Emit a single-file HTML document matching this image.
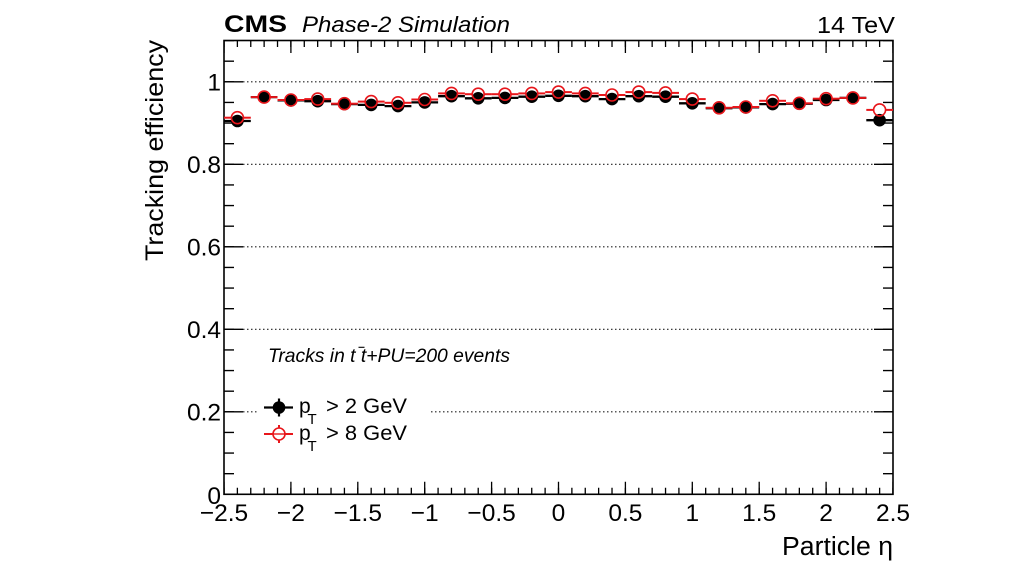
<!DOCTYPE html>
<html>
<head>
<meta charset="utf-8">
<style>
html,body{margin:0;padding:0;background:#fff;}
svg{display:block;}
text{font-family:"Liberation Sans",Arial,sans-serif;fill:#000;}
</style>
</head>
<body>
<svg width="1024" height="576" viewBox="0 0 1024 576" xmlns="http://www.w3.org/2000/svg">
<rect width="1024" height="576" fill="#fff"/>

<!-- grid lines -->
<g stroke="#222" stroke-width="1.2" stroke-dasharray="1.5,2.5">
  <line x1="243" y1="81.8" x2="873" y2="81.8"/>
  <line x1="243" y1="164.3" x2="873" y2="164.3"/>
  <line x1="243" y1="246.8" x2="873" y2="246.8"/>
  <line x1="243" y1="329.3" x2="873" y2="329.3"/>
  <line x1="243" y1="411.8" x2="873" y2="411.8"/>
</g>

<!-- ticks -->
<g stroke="#000" fill="none">
  <line x1="224" y1="491.05" x2="893.5" y2="491.05" stroke-width="6.5" stroke-dasharray="1.3,12.08" stroke-dashoffset="0.65"/>
  <line x1="224" y1="488.05" x2="893.5" y2="488.05" stroke-width="12.5" stroke-dasharray="1.3,65.6" stroke-dashoffset="0.65"/>
  <line x1="224" y1="43.75" x2="893.5" y2="43.75" stroke-width="6.5" stroke-dasharray="1.3,12.08" stroke-dashoffset="0.65"/>
  <line x1="224" y1="46.75" x2="893.5" y2="46.75" stroke-width="12.5" stroke-dasharray="1.3,65.6" stroke-dashoffset="0.65"/>
  <line x1="229" y1="494.95" x2="229" y2="40" stroke-width="10" stroke-dasharray="1.3,19.325"/>
  <line x1="233.5" y1="494.95" x2="233.5" y2="60" stroke-width="19" stroke-dasharray="1.3,81.2"/>
  <line x1="888" y1="494.95" x2="888" y2="40" stroke-width="10" stroke-dasharray="1.3,19.325"/>
  <line x1="883.5" y1="494.95" x2="883.5" y2="60" stroke-width="19" stroke-dasharray="1.3,81.2"/>
</g>

<!-- frame -->
<rect x="224" y="40.5" width="669" height="453.8" fill="none" stroke="#000" stroke-width="1.6"/>

<!-- legend background -->
<rect x="258" y="386" width="172" height="66" fill="#fff"/>

<!-- black series: error bars -->
<g stroke="#000" stroke-width="2.3">
  <line x1="224.0" y1="121.0" x2="250.8" y2="121.0"/>
  <line x1="250.8" y1="97.1" x2="277.5" y2="97.1"/>
  <line x1="277.5" y1="100.4" x2="304.3" y2="100.4"/>
  <line x1="304.3" y1="101.2" x2="331.1" y2="101.2"/>
  <line x1="331.1" y1="104.1" x2="357.8" y2="104.1"/>
  <line x1="357.8" y1="104.9" x2="384.6" y2="104.9"/>
  <line x1="384.6" y1="106.1" x2="411.4" y2="106.1"/>
  <line x1="411.4" y1="102.4" x2="438.1" y2="102.4"/>
  <line x1="438.1" y1="96.2" x2="464.9" y2="96.2"/>
  <line x1="464.9" y1="98.3" x2="491.6" y2="98.3"/>
  <line x1="491.6" y1="97.9" x2="518.4" y2="97.9"/>
  <line x1="518.4" y1="96.7" x2="545.2" y2="96.7"/>
  <line x1="545.2" y1="95.8" x2="571.9" y2="95.8"/>
  <line x1="571.9" y1="96.2" x2="598.7" y2="96.2"/>
  <line x1="598.7" y1="99.1" x2="625.4" y2="99.1"/>
  <line x1="625.4" y1="96.2" x2="652.2" y2="96.2"/>
  <line x1="652.2" y1="96.7" x2="679.0" y2="96.7"/>
  <line x1="679.0" y1="103.3" x2="705.7" y2="103.3"/>
  <line x1="705.7" y1="108.2" x2="732.5" y2="108.2"/>
  <line x1="732.5" y1="107.4" x2="759.2" y2="107.4"/>
  <line x1="759.2" y1="104.1" x2="786.0" y2="104.1"/>
  <line x1="786.0" y1="103.7" x2="812.8" y2="103.7"/>
  <line x1="812.8" y1="100.0" x2="839.5" y2="100.0"/>
  <line x1="839.5" y1="97.9" x2="866.3" y2="97.9"/>
  <line x1="866.3" y1="120.2" x2="893.0" y2="120.2"/>
</g>
<g fill="#000">
  <circle cx="237.4" cy="121.0" r="6.3"/>
  <circle cx="264.1" cy="97.1" r="6.3"/>
  <circle cx="290.9" cy="100.4" r="6.3"/>
  <circle cx="317.7" cy="101.2" r="6.3"/>
  <circle cx="344.4" cy="104.1" r="6.3"/>
  <circle cx="371.2" cy="104.9" r="6.3"/>
  <circle cx="398.0" cy="106.1" r="6.3"/>
  <circle cx="424.7" cy="102.4" r="6.3"/>
  <circle cx="451.5" cy="96.2" r="6.3"/>
  <circle cx="478.2" cy="98.3" r="6.3"/>
  <circle cx="505.0" cy="97.9" r="6.3"/>
  <circle cx="531.8" cy="96.7" r="6.3"/>
  <circle cx="558.5" cy="95.8" r="6.3"/>
  <circle cx="585.3" cy="96.2" r="6.3"/>
  <circle cx="612.0" cy="99.1" r="6.3"/>
  <circle cx="638.8" cy="96.2" r="6.3"/>
  <circle cx="665.5" cy="96.7" r="6.3"/>
  <circle cx="692.3" cy="103.3" r="6.3"/>
  <circle cx="719.1" cy="108.2" r="6.3"/>
  <circle cx="745.8" cy="107.4" r="6.3"/>
  <circle cx="772.6" cy="104.1" r="6.3"/>
  <circle cx="799.3" cy="103.7" r="6.3"/>
  <circle cx="826.1" cy="100.0" r="6.3"/>
  <circle cx="852.9" cy="97.9" r="6.3"/>
  <circle cx="879.6" cy="120.2" r="6.3"/>
</g>

<!-- red series -->
<g stroke="#e8161b" stroke-width="2">
  <line x1="224.0" y1="117.7" x2="231.0" y2="117.7"/><line x1="243.8" y1="117.7" x2="250.8" y2="117.7"/>
  <line x1="250.8" y1="97.1" x2="257.7" y2="97.1"/><line x1="270.5" y1="97.1" x2="277.5" y2="97.1"/>
  <line x1="277.5" y1="100.0" x2="284.5" y2="100.0"/><line x1="297.3" y1="100.0" x2="304.3" y2="100.0"/>
  <line x1="304.3" y1="99.1" x2="311.3" y2="99.1"/><line x1="324.1" y1="99.1" x2="331.1" y2="99.1"/>
  <line x1="331.1" y1="103.7" x2="338.0" y2="103.7"/><line x1="350.8" y1="103.7" x2="357.8" y2="103.7"/>
  <line x1="357.8" y1="101.6" x2="364.8" y2="101.6"/><line x1="377.6" y1="101.6" x2="384.6" y2="101.6"/>
  <line x1="384.6" y1="102.8" x2="391.6" y2="102.8"/><line x1="404.4" y1="102.8" x2="411.4" y2="102.8"/>
  <line x1="411.4" y1="99.5" x2="418.3" y2="99.5"/><line x1="431.1" y1="99.5" x2="438.1" y2="99.5"/>
  <line x1="438.1" y1="93.4" x2="445.1" y2="93.4"/><line x1="457.9" y1="93.4" x2="464.9" y2="93.4"/>
  <line x1="464.9" y1="94.2" x2="471.8" y2="94.2"/><line x1="484.6" y1="94.2" x2="491.6" y2="94.2"/>
  <line x1="491.6" y1="94.2" x2="498.6" y2="94.2"/><line x1="511.4" y1="94.2" x2="518.4" y2="94.2"/>
  <line x1="518.4" y1="93.4" x2="525.4" y2="93.4"/><line x1="538.2" y1="93.4" x2="545.2" y2="93.4"/>
  <line x1="545.2" y1="92.1" x2="552.1" y2="92.1"/><line x1="564.9" y1="92.1" x2="571.9" y2="92.1"/>
  <line x1="571.9" y1="93.4" x2="578.9" y2="93.4"/><line x1="591.7" y1="93.4" x2="598.7" y2="93.4"/>
  <line x1="598.7" y1="95.0" x2="605.6" y2="95.0"/><line x1="618.4" y1="95.0" x2="625.4" y2="95.0"/>
  <line x1="625.4" y1="92.1" x2="632.4" y2="92.1"/><line x1="645.2" y1="92.1" x2="652.2" y2="92.1"/>
  <line x1="652.2" y1="92.9" x2="659.1" y2="92.9"/><line x1="671.9" y1="92.9" x2="679.0" y2="92.9"/>
  <line x1="679.0" y1="99.1" x2="685.9" y2="99.1"/><line x1="698.7" y1="99.1" x2="705.7" y2="99.1"/>
  <line x1="705.7" y1="107.8" x2="712.7" y2="107.8"/><line x1="725.5" y1="107.8" x2="732.5" y2="107.8"/>
  <line x1="732.5" y1="107.0" x2="739.4" y2="107.0"/><line x1="752.2" y1="107.0" x2="759.2" y2="107.0"/>
  <line x1="759.2" y1="100.8" x2="766.2" y2="100.8"/><line x1="779.0" y1="100.8" x2="786.0" y2="100.8"/>
  <line x1="786.0" y1="103.3" x2="792.9" y2="103.3"/><line x1="805.7" y1="103.3" x2="812.8" y2="103.3"/>
  <line x1="812.8" y1="98.7" x2="819.7" y2="98.7"/><line x1="832.5" y1="98.7" x2="839.5" y2="98.7"/>
  <line x1="839.5" y1="97.9" x2="846.5" y2="97.9"/><line x1="859.3" y1="97.9" x2="866.3" y2="97.9"/>
  <line x1="866.3" y1="109.9" x2="873.2" y2="109.9"/><line x1="886.0" y1="109.9" x2="893.0" y2="109.9"/>
</g>
<g fill="none" stroke="#e8161b" stroke-width="1.6">
  <circle cx="237.4" cy="117.7" r="6"/>
  <circle cx="264.1" cy="97.1" r="6"/>
  <circle cx="290.9" cy="100.0" r="6"/>
  <circle cx="317.7" cy="99.1" r="6"/>
  <circle cx="344.4" cy="103.7" r="6"/>
  <circle cx="371.2" cy="101.6" r="6"/>
  <circle cx="398.0" cy="102.8" r="6"/>
  <circle cx="424.7" cy="99.5" r="6"/>
  <circle cx="451.5" cy="93.4" r="6"/>
  <circle cx="478.2" cy="94.2" r="6"/>
  <circle cx="505.0" cy="94.2" r="6"/>
  <circle cx="531.8" cy="93.4" r="6"/>
  <circle cx="558.5" cy="92.1" r="6"/>
  <circle cx="585.3" cy="93.4" r="6"/>
  <circle cx="612.0" cy="95.0" r="6"/>
  <circle cx="638.8" cy="92.1" r="6"/>
  <circle cx="665.5" cy="92.9" r="6"/>
  <circle cx="692.3" cy="99.1" r="6"/>
  <circle cx="719.1" cy="107.8" r="6"/>
  <circle cx="745.8" cy="107.0" r="6"/>
  <circle cx="772.6" cy="100.8" r="6"/>
  <circle cx="799.3" cy="103.3" r="6"/>
  <circle cx="826.1" cy="98.7" r="6"/>
  <circle cx="852.9" cy="97.9" r="6"/>
  <circle cx="879.6" cy="109.9" r="6"/>
</g>

<!-- x tick labels -->
<g font-size="24.5" text-anchor="middle">
  <text x="224" y="521">−2.5</text>
  <text x="290.9" y="521">−2</text>
  <text x="357.8" y="521">−1.5</text>
  <text x="424.7" y="521">−1</text>
  <text x="491.6" y="521">−0.5</text>
  <text x="558.5" y="521">0</text>
  <text x="625.4" y="521">0.5</text>
  <text x="692.3" y="521">1</text>
  <text x="759.2" y="521">1.5</text>
  <text x="826.1" y="521">2</text>
  <text x="893" y="521">2.5</text>
</g>
<!-- y tick labels -->
<g font-size="24.5" text-anchor="end">
  <text x="221" y="504">0</text>
  <text x="221" y="420.6">0.2</text>
  <text x="221" y="338.1">0.4</text>
  <text x="221" y="255.6">0.6</text>
  <text x="221" y="173.1">0.8</text>
  <text x="221" y="90.6">1</text>
</g>

<!-- axis titles -->
<text x="893" y="555" font-size="25.5" text-anchor="end" textLength="111" lengthAdjust="spacingAndGlyphs">Particle η</text>
<text transform="translate(163,40) rotate(-90)" x="0" y="0" font-size="25" text-anchor="end" textLength="221" lengthAdjust="spacingAndGlyphs">Tracking efficiency</text>

<!-- header -->
<text x="224" y="32" font-size="24" font-weight="bold" textLength="63" lengthAdjust="spacingAndGlyphs">CMS</text>
<text x="302" y="32" font-size="22" font-style="italic" textLength="208" lengthAdjust="spacingAndGlyphs">Phase-2 Simulation</text>
<text x="895" y="33" font-size="23" text-anchor="end" textLength="78" lengthAdjust="spacingAndGlyphs">14 TeV</text>

<!-- legend -->
<text x="268" y="362" font-size="19" font-style="italic" textLength="242" lengthAdjust="spacingAndGlyphs">Tracks in t t+PU=200 events</text>
<line x1="358.5" y1="347.3" x2="364.5" y2="347.3" stroke="#000" stroke-width="1.1"/>

<g stroke="#000" stroke-width="2.2">
  <line x1="264" y1="407.5" x2="293" y2="407.5"/>
  <line x1="279" y1="398.5" x2="279" y2="416.5"/>
</g>
<circle cx="279" cy="407.5" r="6.3" fill="#000"/>
<text x="299" y="413" font-size="21">p</text>
<text x="307.5" y="424" font-size="15">T</text>
<text x="326" y="413" font-size="21" textLength="81" lengthAdjust="spacingAndGlyphs">&gt; 2 GeV</text>

<g stroke="#e8161b" stroke-width="2">
  <line x1="264" y1="434" x2="293" y2="434"/>
  <line x1="279" y1="425" x2="279" y2="443"/>
</g>
<circle cx="279" cy="434" r="6" fill="#fff" stroke="#e8161b" stroke-width="1.6"/>
<line x1="273" y1="434" x2="285" y2="434" stroke="#e8161b" stroke-width="1.4"/>
<text x="299" y="440" font-size="21">p</text>
<text x="307.5" y="451" font-size="15">T</text>
<text x="326" y="440" font-size="21" textLength="81" lengthAdjust="spacingAndGlyphs">&gt; 8 GeV</text>
</svg>
</body>
</html>
